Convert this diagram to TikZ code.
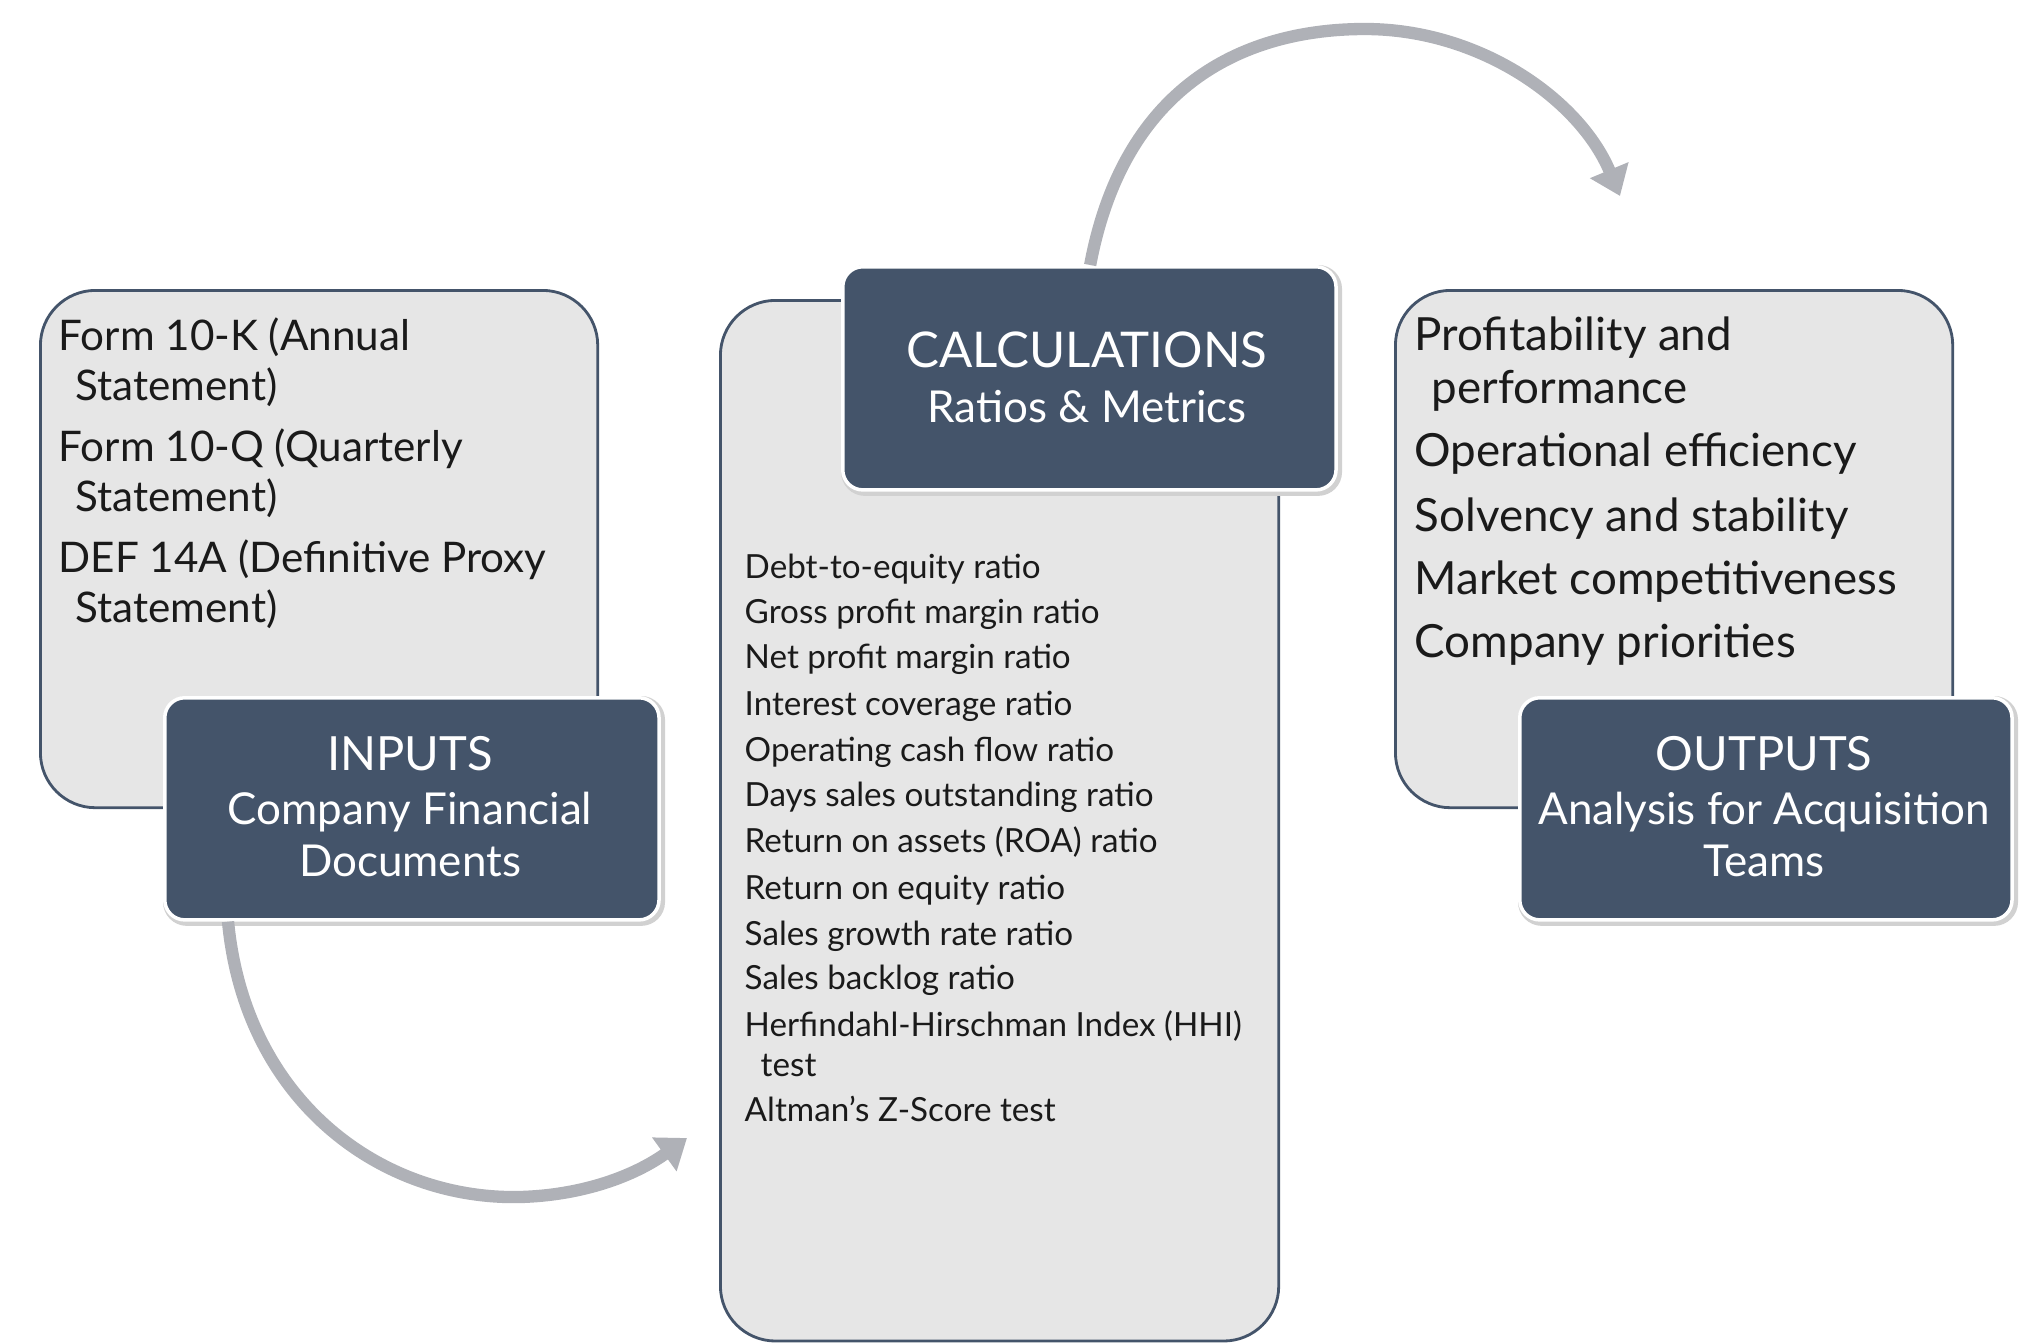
\documentclass[tikz,border=0pt]{standalone}
\usepackage{fontspec}
\setmainfont{Lato}
\usetikzlibrary{arrows.meta}
\definecolor{slate}{HTML}{44546A}
\definecolor{panel}{HTML}{E6E6E6}
\definecolor{flow}{HTML}{AFB1B7}
\definecolor{ink}{HTML}{1A1A1A}
\begin{document}
\begin{tikzpicture}[x=0.01cm,y=-0.01cm,
  panelbox/.style={draw=slate, line width=0.8pt, fill=panel, rounded corners=0.55cm,
    inner sep=0pt, anchor=north west},
  titlebox/.style={fill=slate, draw=white, line width=1pt, rounded corners=0.2cm,
    inner sep=0pt, anchor=north west},
  shadowbox/.style={draw=black!18, line width=2.2pt, rounded corners=0.2cm,
    inner sep=0pt, anchor=north west},
  doctxt/.style={font=\fontsize{12pt}{14pt}\selectfont, text=ink, anchor=base west, inner sep=0pt},
  bigtxt/.style={font=\fontsize{13pt}{14pt}\selectfont, text=ink, anchor=base west, inner sep=0pt},
  smalltxt/.style={font=\fontsize{9.45pt}{11pt}\selectfont, text=ink, anchor=base west, inner sep=0pt},
  headtxt/.style={font=\fontsize{13.4pt}{15pt}\selectfont, text=white, anchor=base, inner sep=0pt},
  subtxt/.style={font=\fontsize{12.5pt}{15pt}\selectfont, text=white, anchor=base, inner sep=0pt},
  flowarrow/.style={draw=flow, line width=3.5pt, -{Triangle[length=0.28cm, width=0.4cm]}}
]
\useasboundingbox (0,0) rectangle (2039,1342);

% ---------- panels ----------
\node[panelbox, minimum width=5.57cm, minimum height=5.17cm] (inpanel) at (39,289) {};
\node[panelbox, minimum width=5.58cm, minimum height=10.4cm] (calcpanel) at (719,299) {};
\node[panelbox, minimum width=5.57cm, minimum height=5.17cm] (outpanel) at (1394,289) {};

% ---------- title boxes ----------
\node[shadowbox, minimum width=4.94cm, minimum height=2.22cm] at (163,696) {};
\node[titlebox, minimum width=4.94cm, minimum height=2.22cm] (inp) at (163,696) {};
\node[shadowbox, minimum width=4.93cm, minimum height=2.23cm] at (841,265) {};
\node[titlebox, minimum width=4.93cm, minimum height=2.23cm] (calc) at (841,265) {};
\node[shadowbox, minimum width=4.92cm, minimum height=2.22cm] at (1518,696) {};
\node[titlebox, minimum width=4.92cm, minimum height=2.22cm] (outp) at (1518,696) {};

% ---------- title texts ----------
\node[headtxt] (inph) at (410,770) {INPUTS};
\node[subtxt] (inps1) at (410,824) {Company Financial};
\node[subtxt] (inps2) at (410,876) {Documents};

\node[headtxt, font=\fontsize{14pt}{15pt}\selectfont] (calch) at (1087,367) {CALCULATIONS};
\node[subtxt] (calcs) at (1087,422) {Ratios \& Metrics};

\node[headtxt] (outph) at (1764,770) {OUTPUTS};
\node[subtxt] (outps1) at (1764,824) {Analysis for Acquisition};
\node[subtxt] (outps2) at (1764,876) {Teams};

% ---------- input documents ----------
\node[doctxt] (i1) at (58,350) {Form 10-K (Annual};
\node[doctxt] (i1b) at (75,400) {Statement)};
\node[doctxt] (i2) at (58,461) {Form 10-Q (Quarterly};
\node[doctxt] (i2b) at (75,511) {Statement)};
\node[doctxt] (i3) at (58,572) {DEF 14A (Definitive Proxy};
\node[doctxt] (i3b) at (75,622) {Statement)};

% ---------- ratios ----------
\node[smalltxt] (r1) at (744,578) {Debt-to-equity ratio};
\node[smalltxt] (r2) at (744,623) {Gross profit margin ratio};
\node[smalltxt] (r3) at (744,668) {Net profit margin ratio};
\node[smalltxt] (r4) at (744,715) {Interest coverage ratio};
\node[smalltxt] (r5) at (744,761) {Operating cash flow ratio};
\node[smalltxt] (r6) at (744,806) {Days sales outstanding ratio};
\node[smalltxt] (r7) at (744,852) {Return on assets (ROA) ratio};
\node[smalltxt] (r8) at (744,899) {Return on equity ratio};
\node[smalltxt] (r9) at (744,945) {Sales growth rate ratio};
\node[smalltxt] (r10) at (744,989) {Sales backlog ratio};
\node[smalltxt] (r11) at (744,1036) {Herfindahl-Hirschman Index (HHI)};
\node[smalltxt] (r11b) at (760,1076) {test};
\node[smalltxt] (r12) at (744,1121) {Altman’s Z-Score test};

% ---------- outputs ----------
\node[bigtxt] (o1) at (1414,350) {Profitability and};
\node[bigtxt] (o1b) at (1431,403) {performance};
\node[bigtxt] (o2) at (1414,466) {Operational efficiency};
\node[bigtxt] (o3) at (1414,531) {Solvency and stability};
\node[bigtxt] (o4) at (1414,594) {Market competitiveness};
\node[bigtxt] (o5) at (1414,657) {Company priorities};

% ---------- flow arrows ----------
\coordinate (toCalc) at (687,1138);
\coordinate (toOut) at (1620,196);
\draw[flowarrow] ([xshift=0.65cm]inp.south west)
  .. controls (245,1100) and (380,1200) .. (520,1197)
  .. controls (590,1195) and (640,1172) .. (toCalc);
\draw[flowarrow] ([xshift=2.49cm]calc.north west)
  .. controls (1125,80) and (1250,29) .. (1365,29)
  .. controls (1480,29) and (1580,100) .. (toOut);
\end{tikzpicture}
\end{document}
